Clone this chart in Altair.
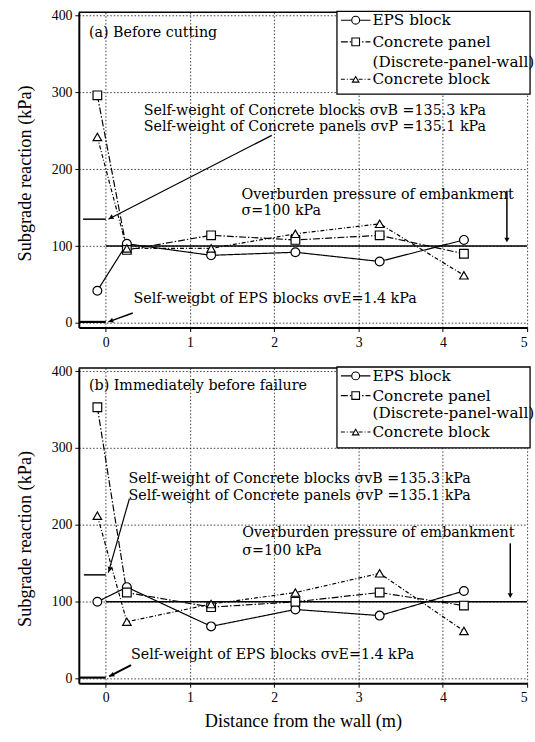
import altair as alt
import pandas as pd

# ---------------- data ----------------
dist = [-0.1, 0.25, 1.25, 2.25, 3.25, 4.25]
series = ["EPS block", "Concrete panel", "Concrete block"]

a_eps = [42, 103, 88, 92, 80, 108]
a_panel = [296, 95, 114, 108, 114, 90]
a_block = [242, 97, 97, 116, 129, 62]

b_eps = [100, 119, 68, 90, 82, 114]
b_panel = [353, 112, 93, 100, 112, 95]
b_block = [212, 74, 97, 112, 137, 62]

x_ticks = [0, 1, 2, 3, 4, 5]
y_ticks = [0, 100, 200, 300, 400]

overburden = 100
self_weight_concrete = 135
self_weight_eps = 1.4

texts_a = [
    ("(a) Before cutting", -0.2, 377),
    ("Self-weight of Concrete blocks σvB =135.3 kPa", 0.45, 276),
    ("Self-weight of Concrete panels σvP =135.1 kPa", 0.45, 255),
    ("Overburden pressure of embankment", 1.61, 167),
    ("σ=100 kPa", 1.61, 146),
    ("Self-weigbt of EPS blocks σvE=1.4 kPa", 0.33, 31),
]
texts_b = [
    ("(b) Immediately before failure", -0.2, 381),
    ("Self-weight of Concrete blocks σvB =135.3 kPa", 0.27, 259),
    ("Self-weight of Concrete panels σvP =135.1 kPa", 0.27, 238),
    ("Overburden pressure of embankment", 1.62, 189),
    ("σ=100 kPa", 1.62, 166),
    ("Self-weight of EPS blocks σvE=1.4 kPa", 0.30, 31),
]
# segments: x, y, x2, y2, width
segs_a = [
    (0, overburden, 5, overburden, 1.5),
    (-0.27, self_weight_concrete, 0, self_weight_concrete, 1.5),
    (-0.31, self_weight_eps, 0, self_weight_eps, 2.2),
    (0.03, self_weight_concrete, 1.97, 244, 1.2),
    (0.03, self_weight_eps, 0.32, 13, 1.5),
    (4.76, 172, 4.76, 110, 1.5),
]
segs_b = [
    (0, overburden, 5, overburden, 1.5),
    (-0.26, self_weight_concrete, 0, self_weight_concrete, 1.5),
    (-0.31, self_weight_eps, 0, self_weight_eps, 2.2),
    (0.03, 138, 0.28, 234, 1.2),
    (0.04, 3, 0.30, 17.5, 2.0),
    (4.80, 176, 4.80, 110, 1.5),
]
# arrow heads: x, y, angle
heads_a = [(0.06, 137, 243), (0.06, 2.5, 250), (4.76, 108, 180)]
heads_b = [(0.045, 142, 196), (0.07, 4.5, 245), (4.80, 108, 180)]

legend_rows_a = [8, 30, 50, 68]
legend_rows_b = [8, 28, 46, 65]

dashes = [[1, 0], [7, 2, 1.5, 2], [4, 2, 1, 2]]
shapes = ["circle", "square", "triangle-up"]
sizes = [80, 75, 55]

SERIF = "Liberation Serif"
ANN = "DejaVu Serif"
W = 455
XDOM = [-0.32, 5.0]
YDOM = [-6, 404]
ONE = pd.DataFrame({"k": [0]})


def panel(eps, pnl, blk, texts, segs, heads, rows, height, box_bottom, x_title, title_y):
    rows_df = []
    for s, vals in zip(series, [eps, pnl, blk]):
        for d, v in zip(dist, vals):
            rows_df.append({"dist": d, "val": v, "series": s})
    df = pd.DataFrame(rows_df)

    xaxis = dict(values=x_ticks, grid=True, format="d", titlePadding=7, labelPadding=4)
    xaxis["title"] = x_title if x_title else None
    xenc = alt.X("dist:Q", scale=alt.Scale(domain=XDOM, nice=False, zero=False), axis=alt.Axis(**xaxis))
    yenc = alt.Y(
        "val:Q",
        scale=alt.Scale(domain=YDOM, nice=False, zero=False),
        axis=alt.Axis(values=y_ticks, title="Subgrade reaction (kPa)", grid=True,
                      titleX=-55, titleY=title_y, titleBaseline="middle", titleAngle=270,
                      labelPadding=3),
    )

    base = alt.Chart(df)
    lines = base.mark_line(color="black", strokeWidth=1.2).encode(
        x=xenc, y=yenc,
        strokeDash=alt.StrokeDash("series:N", scale=alt.Scale(domain=series, range=dashes), legend=None),
        detail="series:N",
    )
    points = base.mark_point(filled=True, fill="white", stroke="black", strokeWidth=1.2, opacity=1).encode(
        x="dist:Q", y="val:Q",
        shape=alt.Shape("series:N", scale=alt.Scale(domain=series, range=shapes), legend=None),
        size=alt.Size("series:N", scale=alt.Scale(domain=series, range=sizes), legend=None),
    )

    sdf = pd.DataFrame(segs, columns=["x", "y", "x2", "y2", "w"])
    seg_layer = alt.Chart(sdf).mark_rule(color="black").encode(
        x="x:Q", y="y:Q", x2="x2:Q", y2="y2:Q",
        strokeWidth=alt.StrokeWidth("w:Q", scale=None),
    )
    hdf = pd.DataFrame(heads, columns=["x", "y", "ang"])
    head_layer = alt.Chart(hdf).mark_point(shape="triangle-up", filled=True, color="black", size=28, opacity=1).encode(
        x="x:Q", y="y:Q", angle=alt.Angle("ang:Q", scale=None),
    )
    tdf = pd.DataFrame(texts, columns=["t", "x", "y"])
    text_layer = alt.Chart(tdf).mark_text(
        align="left", baseline="middle", font=ANN, fontSize=14.5, color="black"
    ).encode(x="x:Q", y="y:Q", text="t:N")

    top_border = alt.Chart(ONE).mark_rule(color="black", strokeWidth=1.5).encode(
        x=alt.value(0), x2=alt.value(W), y=alt.value(0)
    )

    box = alt.Chart(ONE).mark_rect(fill="white", stroke="black", strokeWidth=1.3).encode(
        x=alt.value(262), x2=alt.value(458), y=alt.value(-1), y2=alt.value(box_bottom)
    )
    leg = [box]
    labels = [series[0], series[1], "(Discrete-panel-wall)", series[2]]
    sym_rows = [rows[0], rows[1], rows[3]]
    for i in range(3):
        leg.append(alt.Chart(ONE).mark_rule(color="black", strokeWidth=1.1, strokeDash=dashes[i]).encode(
            x=alt.value(266), x2=alt.value(296), y=alt.value(sym_rows[i])))
        leg.append(alt.Chart(ONE).mark_point(shape=shapes[i], filled=True, fill="white", stroke="black",
                                             strokeWidth=1.1, size=sizes[i] * 0.8, opacity=1).encode(
            x=alt.value(281), y=alt.value(sym_rows[i])))
    for lab, r in zip(labels, rows):
        leg.append(alt.Chart(ONE).mark_text(align="left", baseline="middle", font=ANN, fontSize=15.5,
                                            color="black", text=lab).encode(
            x=alt.value(298), y=alt.value(r)))

    return alt.layer(lines, seg_layer, head_layer, points, text_layer, top_border, *leg).properties(
        width=W, height=height
    )


top = panel(a_eps, a_panel, a_block, texts_a, segs_a, heads_a, legend_rows_a, 320, 83, None, 163)
bottom = panel(b_eps, b_panel, b_block, texts_b, segs_b, heads_b, legend_rows_b, 320, 81,
               "Distance from the wall (m)", 173)

chart = alt.vconcat(top, bottom, spacing=41, bounds="flush").properties(
    padding={"left": 16, "top": 3, "right": 0, "bottom": 0},
    background="white",
).configure_view(stroke=None).configure_axis(
    labelFont="Liberation Sans Narrow",
    labelFontSize=14,
    labelColor="black",
    titleFont=SERIF,
    titleFontSize=18.5,
    titleFontWeight="normal",
    titleColor="black",
    domainColor="black",
    domainWidth=2,
    tickColor="black",
    tickSize=4,
    gridColor="black",
    gridDash=[1.5, 2],
    gridWidth=0.9,
    gridOpacity=0.85,
)

chart.save("out.html", embed_options={"renderer": "svg", "actions": False})
